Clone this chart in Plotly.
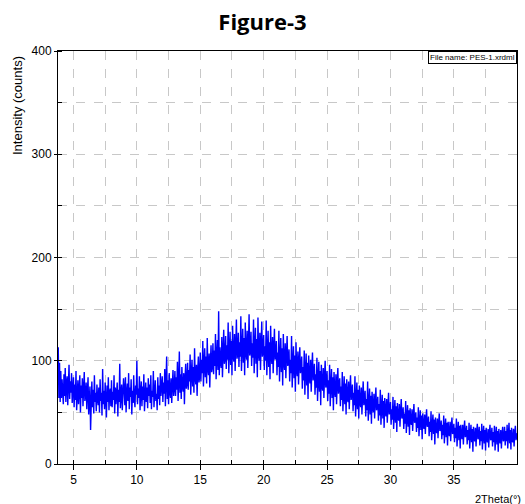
import numpy as np
import plotly.graph_objects as go

# 2Theta grid (degrees) and intensities (counts)
theta_start = 3.8
theta_step = 0.05
intensity = [
    113, 64, 98, 60,
    90, 64, 82, 71, 58, 87, 66, 93, 60, 78, 85, 57, 74, 96, 63, 80, 69, 88, 59, 75,
    84, 55, 77, 62, 90, 52, 73, 81, 58, 68, 86, 50, 76, 64, 83, 56, 71, 89, 61, 66,
    79, 53, 70, 84, 48, 62, 75, 33, 67, 80, 55, 72, 49, 86, 60, 69, 51, 77, 64, 57,
    74, 50, 82, 61, 69, 47, 92, 58, 71, 53, 79, 65, 45, 76, 60, 84, 52, 68, 73, 56,
    81, 55, 70, 62, 86, 49, 74, 58, 66, 79, 46, 72, 60, 97, 54, 68, 77, 52, 63, 83,
    72, 57, 84, 50, 69, 78, 61, 88, 53, 74, 65, 82, 48, 71, 59, 86, 63, 55, 76, 67,
    100, 58, 73, 64, 85, 52, 70, 80, 56, 75, 62, 87, 51, 68, 79, 60, 74, 54, 83, 66,
    77, 59, 86, 53, 71, 65, 90, 55, 74, 81, 61, 68, 52, 84, 63, 76, 57, 88, 66, 72,
    85, 60, 79, 68, 92, 56, 75, 104, 63, 81, 58, 88, 70, 64, 83, 59, 77, 91, 66, 73,
    90, 66, 84, 72, 99, 61, 80, 109, 69, 87, 63, 94, 75, 70, 88, 58, 82, 97, 73, 78,
    98, 72, 91, 80, 106, 67, 88, 101, 75, 94, 69, 112, 83, 77, 96, 66, 90, 104, 79, 85,
    108, 80, 101, 88, 119, 75, 97, 112, 84, 104, 78, 122, 92, 86, 107, 74, 99, 115, 89, 94,
    117, 87, 110, 95, 126, 82, 104, 120, 91, 148, 86, 113, 99, 93, 123, 84, 108, 130, 97, 102,
    124, 92, 115, 101, 137, 88, 110, 128, 96, 119, 86, 134, 105, 99, 126, 90, 113, 140, 102, 107,
    127, 94, 118, 104, 143, 90, 112, 131, 98, 122, 86, 137, 108, 101, 129, 93, 115, 145, 105, 109,
    128, 95, 117, 103, 140, 88, 113, 132, 97, 121, 84, 142, 107, 100, 127, 91, 116, 138, 104, 110,
    125, 91, 114, 100, 139, 86, 109, 129, 94, 118, 82, 134, 104, 97, 123, 88, 112, 131, 101, 106,
    119, 86, 108, 94, 129, 80, 103, 122, 89, 112, 76, 126, 98, 91, 117, 83, 106, 124, 95, 100,
    111, 80, 101, 88, 124, 74, 96, 114, 83, 105, 70, 118, 91, 85, 109, 77, 99, 113, 88, 93,
    104, 73, 94, 81, 110, 67, 89, 107, 76, 98, 63, 105, 84, 78, 101, 70, 92, 108, 81, 86,
    97, 67, 87, 74, 103, 61, 82, 99, 70, 90, 57, 96, 77, 71, 93, 64, 85, 100, 74, 79,
    90, 61, 81, 68, 96, 56, 76, 92, 64, 84, 52, 89, 71, 65, 87, 58, 79, 93, 68, 73,
    83, 56, 75, 62, 89, 51, 70, 85, 58, 78, 48, 82, 65, 60, 80, 53, 72, 86, 62, 67,
    77, 51, 69, 57, 85, 46, 64, 79, 53, 72, 44, 76, 60, 55, 74, 48, 66, 80, 57, 61,
    71, 46, 63, 52, 80, 42, 59, 73, 48, 66, 39, 70, 55, 50, 68, 44, 61, 74, 52, 56,
    65, 42, 58, 47, 72, 38, 54, 67, 44, 61, 35, 64, 50, 46, 63, 40, 56, 69, 48, 51,
    60, 38, 53, 43, 65, 34, 49, 62, 40, 56, 31, 59, 45, 42, 58, 36, 51, 63, 44, 46,
    55, 34, 49, 39, 61, 30, 45, 57, 36, 52, 28, 54, 41, 38, 53, 32, 47, 58, 40, 42,
    50, 31, 45, 35, 55, 27, 41, 52, 33, 47, 24, 49, 37, 34, 48, 29, 43, 53, 36, 38,
    46, 27, 41, 31, 51, 23, 37, 48, 29, 43, 19, 45, 33, 30, 44, 25, 39, 49, 32, 34,
    42, 24, 38, 28, 47, 20, 34, 44, 26, 40, 18, 41, 30, 27, 41, 22, 36, 45, 29, 31,
    39, 21, 35, 25, 44, 17, 31, 41, 23, 37, 15, 38, 27, 24, 38, 19, 33, 42, 26, 28,
    37, 19, 33, 23, 40, 15, 29, 38, 21, 34, 12, 36, 25, 22, 35, 17, 31, 39, 24, 26,
    36, 18, 32, 22, 39, 14, 28, 37, 20, 33, 13, 35, 24, 21, 34, 16, 30, 38, 23, 25,
    35, 17, 31, 21, 37, 13, 27, 36, 19, 32, 12, 34, 23, 20, 33, 15, 29, 36, 22, 24,
    36, 18, 32, 22, 38, 15, 28, 40, 20, 33, 14, 35, 24, 21, 34, 17, 30, 37, 23, 27,
    30,
]
two_theta = np.round(theta_start + theta_step * np.arange(len(intensity)), 3)

x_ticks = [5, 10, 15, 20, 25, 30, 35]
y_ticks = [0, 100, 200, 300, 400]

TICK_FONT = dict(family="Liberation Sans Narrow, Arial Narrow, Liberation Sans, Arial", size=12, color="black")

fig = go.Figure()
fig.add_trace(go.Scatter(
    x=two_theta, y=intensity, mode="lines",
    line=dict(color="#0000ff", width=1.4),
    showlegend=False, hoverinfo="skip",
))

fig.update_layout(
    width=525, height=504,
    margin=dict(l=58, r=8, t=51, b=40),
    plot_bgcolor="white", paper_bgcolor="white",
    title=dict(text="<b>Figure-3</b>", x=0.5, xanchor="center", y=0.956, yanchor="middle",
               font=dict(family="Open Sans, Liberation Sans, Arial", size=22, color="black")),
    xaxis=dict(
        range=[3.78, 39.98], tickmode="array", tickvals=x_ticks, ticktext=[str(v) for v in x_ticks],
        ticks="outside", ticklen=5, tickcolor="black", tickwidth=1,
        showline=True, linecolor="black", linewidth=1, mirror=True,
        showgrid=True, gridcolor="#c8c8c8", griddash="dash", gridwidth=1,
        minor=dict(dtick=2.5, tick0=5, ticks="inside", ticklen=4, tickcolor="black",
                   showgrid=True, gridcolor="#c8c8c8", griddash="dash"),
        tickfont=TICK_FONT, zeroline=False, fixedrange=True,
    ),
    yaxis=dict(
        range=[0, 400], tickmode="array", tickvals=y_ticks, ticktext=[str(v) for v in y_ticks],
        ticks="outside", ticklen=3, tickcolor="black", tickwidth=1,
        showline=True, linecolor="black", linewidth=1, mirror=True,
        showgrid=True, gridcolor="#c8c8c8", griddash="dash", gridwidth=1,
        minor=dict(dtick=50, tick0=0, ticks="inside", ticklen=4, tickcolor="black",
                   showgrid=True, gridcolor="#c8c8c8", griddash="dash"),
        tickfont=TICK_FONT, zeroline=False, fixedrange=True,
    ),
)

fig.add_annotation(
    text="Intensity (counts)", xref="paper", yref="paper",
    x=-0.087, y=0.867, xanchor="center", yanchor="middle", textangle=-90, showarrow=False,
    font=dict(family="Liberation Sans, Arial", size=13, color="black"),
)
fig.add_annotation(
    text="2Theta(°)", xref="paper", yref="paper",
    x=1.012, y=-0.065, xanchor="right", yanchor="top", showarrow=False,
    font=dict(family="Liberation Sans Narrow, Arial Narrow, Liberation Sans, Arial", size=11, color="black"),
)
fig.add_annotation(
    text="File name: PES-1.xrdml", xref="paper", yref="paper",
    x=1.0, y=1.0, xanchor="right", yanchor="top", showarrow=False,
    bordercolor="black", borderwidth=1, borderpad=1, bgcolor="white",
    font=dict(family="Liberation Sans Narrow, Arial Narrow, Liberation Sans, Arial", size=8, color="black"),
)

fig.write_html("out.html", config={"displayModeBar": False},
               post_script="document.body.style.margin='0';")
